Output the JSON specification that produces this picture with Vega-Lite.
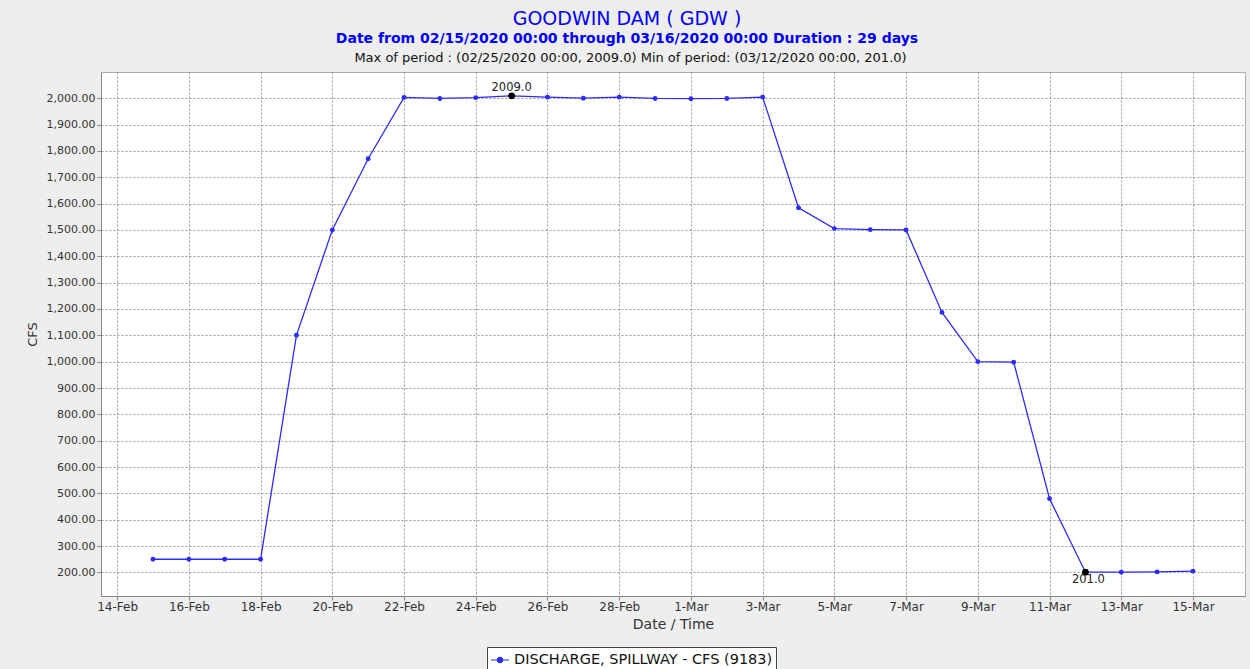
{
  "$schema": "https://vega.github.io/schema/vega-lite/v6.json",
  "autosize": {"type": "none"},
  "width": 1144,
  "height": 524,
  "padding": {"left": 101, "top": 72, "right": 5, "bottom": 73},
  "background": "#eeeeee",
  "title": {
    "text": "GOODWIN DAM ( GDW )",
    "subtitle": "Date from 02/15/2020 00:00 through 03/16/2020 00:00 Duration : 29 days",
    "anchor": "middle",
    "frame": "group",
    "dx": -46,
    "font": "DejaVu Sans",
    "fontSize": 19,
    "fontWeight": "normal",
    "color": "#0000ff",
    "subtitleFont": "DejaVu Sans",
    "subtitleFontSize": 14,
    "subtitleFontWeight": "bold",
    "subtitleColor": "#0000ff",
    "subtitlePadding": 3,
    "offset": 5
  },
  "data": {
    "values": [
      {"date": "2020-02-15T00:00:00Z", "value": 250},
      {"date": "2020-02-16T00:00:00Z", "value": 250},
      {"date": "2020-02-17T00:00:00Z", "value": 250},
      {"date": "2020-02-18T00:00:00Z", "value": 250},
      {"date": "2020-02-19T00:00:00Z", "value": 1100},
      {"date": "2020-02-20T00:00:00Z", "value": 1500},
      {"date": "2020-02-21T00:00:00Z", "value": 1770},
      {"date": "2020-02-22T00:00:00Z", "value": 2003},
      {"date": "2020-02-23T00:00:00Z", "value": 1999},
      {"date": "2020-02-24T00:00:00Z", "value": 2002},
      {"date": "2020-02-25T00:00:00Z", "value": 2009},
      {"date": "2020-02-26T00:00:00Z", "value": 2004},
      {"date": "2020-02-27T00:00:00Z", "value": 2000},
      {"date": "2020-02-28T00:00:00Z", "value": 2004},
      {"date": "2020-02-29T00:00:00Z", "value": 1999},
      {"date": "2020-03-01T00:00:00Z", "value": 1998},
      {"date": "2020-03-02T00:00:00Z", "value": 1999},
      {"date": "2020-03-03T00:00:00Z", "value": 2004},
      {"date": "2020-03-04T00:00:00Z", "value": 1584},
      {"date": "2020-03-05T00:00:00Z", "value": 1505},
      {"date": "2020-03-06T00:00:00Z", "value": 1501},
      {"date": "2020-03-07T00:00:00Z", "value": 1500},
      {"date": "2020-03-08T00:00:00Z", "value": 1187},
      {"date": "2020-03-09T00:00:00Z", "value": 1000},
      {"date": "2020-03-10T00:00:00Z", "value": 998},
      {"date": "2020-03-11T00:00:00Z", "value": 480},
      {"date": "2020-03-12T00:00:00Z", "value": 201},
      {"date": "2020-03-13T00:00:00Z", "value": 201},
      {"date": "2020-03-14T00:00:00Z", "value": 202},
      {"date": "2020-03-15T00:00:00Z", "value": 205}
    ]
  },
  "encoding": {
    "x": {
      "field": "date",
      "type": "temporal",
      "scale": {"type": "utc", "domain": [1581599520000, 1584355680000], "nice": false}
    },
    "y": {
      "field": "value",
      "type": "quantitative",
      "scale": {"domain": [110.6, 2099.4], "nice": false, "zero": false},
      "axis": {
        "title": "CFS",
        "values": [200,300,400,500,600,700,800,900,1000,1100,1200,1300,1400,1500,1600,1700,1800,1900,2000],
        "format": ",.2f",
        "grid": true,
        "gridColor": "#999999",
        "gridDash": [2, 2],
        "gridWidth": 1,
        "tickSize": 4,
        "tickColor": "#888888",
        "domainColor": "#888888",
        "labelPadding": 2,
        "labelFont": "DejaVu Sans",
        "labelFontSize": 11,
        "labelColor": "#333333",
        "titleFont": "DejaVu Sans",
        "titleFontSize": 13,
        "titleFontWeight": "normal",
        "titleColor": "#333333",
        "titlePadding": 7
      }
    }
  },
  "resolve": {"axis": {"x": "independent"}},
  "layer": [
    {
      "mark": {"type": "line", "strokeWidth": 1.3, "point": {"filled": true, "size": 24}},
      "encoding": {
        "x": {
          "field": "date",
          "type": "temporal",
          "axis": {
            "orient": "bottom",
            "title": "Date / Time",
            "values": [1581638400000,1581811200000,1581984000000,1582156800000,1582329600000,1582502400000,1582675200000,1582848000000,1583020800000,1583193600000,1583366400000,1583539200000,1583712000000,1583884800000,1584057600000,1584230400000],
            "labelExpr": "utcFormat(datum.value, '%-d-%b')",
            "grid": true,
            "gridColor": "#999999",
            "gridDash": [2, 2],
            "gridWidth": 1,
            "tickSize": 4,
            "tickColor": "#888888",
            "domainColor": "#888888",
            "labelPadding": 1,
            "labelFont": "DejaVu Sans",
            "labelFontSize": 12,
            "labelColor": "#333333",
            "titleFont": "DejaVu Sans",
            "titleFontSize": 14,
            "titleFontWeight": "normal",
            "titleColor": "#333333",
            "titlePadding": 5
          }
        },
        "color": {
          "datum": "DISCHARGE, SPILLWAY - CFS (9183)",
          "type": "nominal",
          "scale": {"range": ["#2b2bff"]},
          "legend": {
            "title": null,
            "orient": "none",
            "legendX": 386,
            "legendY": 575,
            "symbolType": "M-1,0H1M0.3,0A0.3,0.3,0,1,1,-0.3,0A0.3,0.3,0,1,1,0.3,0Z",
            "symbolSize": 324,
            "symbolStrokeWidth": 1.2,
            "symbolStrokeColor": "#2b2bff",
            "symbolFillColor": "#2b2bff",
            "labelFont": "DejaVu Sans",
            "labelFontSize": 14.5,
            "labelLimit": 500,
            "labelColor": "#111111",
            "labelOffset": 4,
            "strokeColor": "#444444",
            "fillColor": "#ffffff",
            "padding": 3
          }
        }
      }
    },
    {
      "transform": [{"filter": "datum.value == 2009 || time(datum.date) == 1583971200000"}],
      "mark": {"type": "point", "filled": true, "size": 45, "color": "#000000", "opacity": 1},
      "encoding": {
        "x": {
          "field": "date",
          "type": "temporal",
          "axis": {
            "orient": "top",
            "title": "Max of period : (02/25/2020 00:00, 2009.0)  Min of period: (03/12/2020 00:00,  201.0)",
            "labels": false,
            "ticks": false,
            "domain": false,
            "grid": false,
            "titleFont": "DejaVu Sans",
            "titleFontSize": 13,
            "titleFontWeight": "normal",
            "titleColor": "#111111",
            "titlePadding": 8,
            "titleX": 529
          }
        }
      }
    },
    {
      "transform": [{"filter": "datum.value == 2009"}],
      "mark": {"type": "text", "dy": -8, "font": "DejaVu Sans", "fontSize": 11.5, "color": "#222222"},
      "encoding": {
        "x": {"field": "date", "type": "temporal", "axis": null},
        "text": {"field": "value", "type": "quantitative", "format": ".1f"}
      }
    },
    {
      "transform": [{"filter": "time(datum.date) == 1583971200000"}],
      "mark": {"type": "text", "dy": 8, "dx": 3, "font": "DejaVu Sans", "fontSize": 11.5, "color": "#222222"},
      "encoding": {
        "x": {"field": "date", "type": "temporal", "axis": null},
        "text": {"field": "value", "type": "quantitative", "format": ".1f"}
      }
    }
  ],
  "config": {
    "view": {"fill": "#ffffff", "stroke": "#aaaaaa"}
  }
}
